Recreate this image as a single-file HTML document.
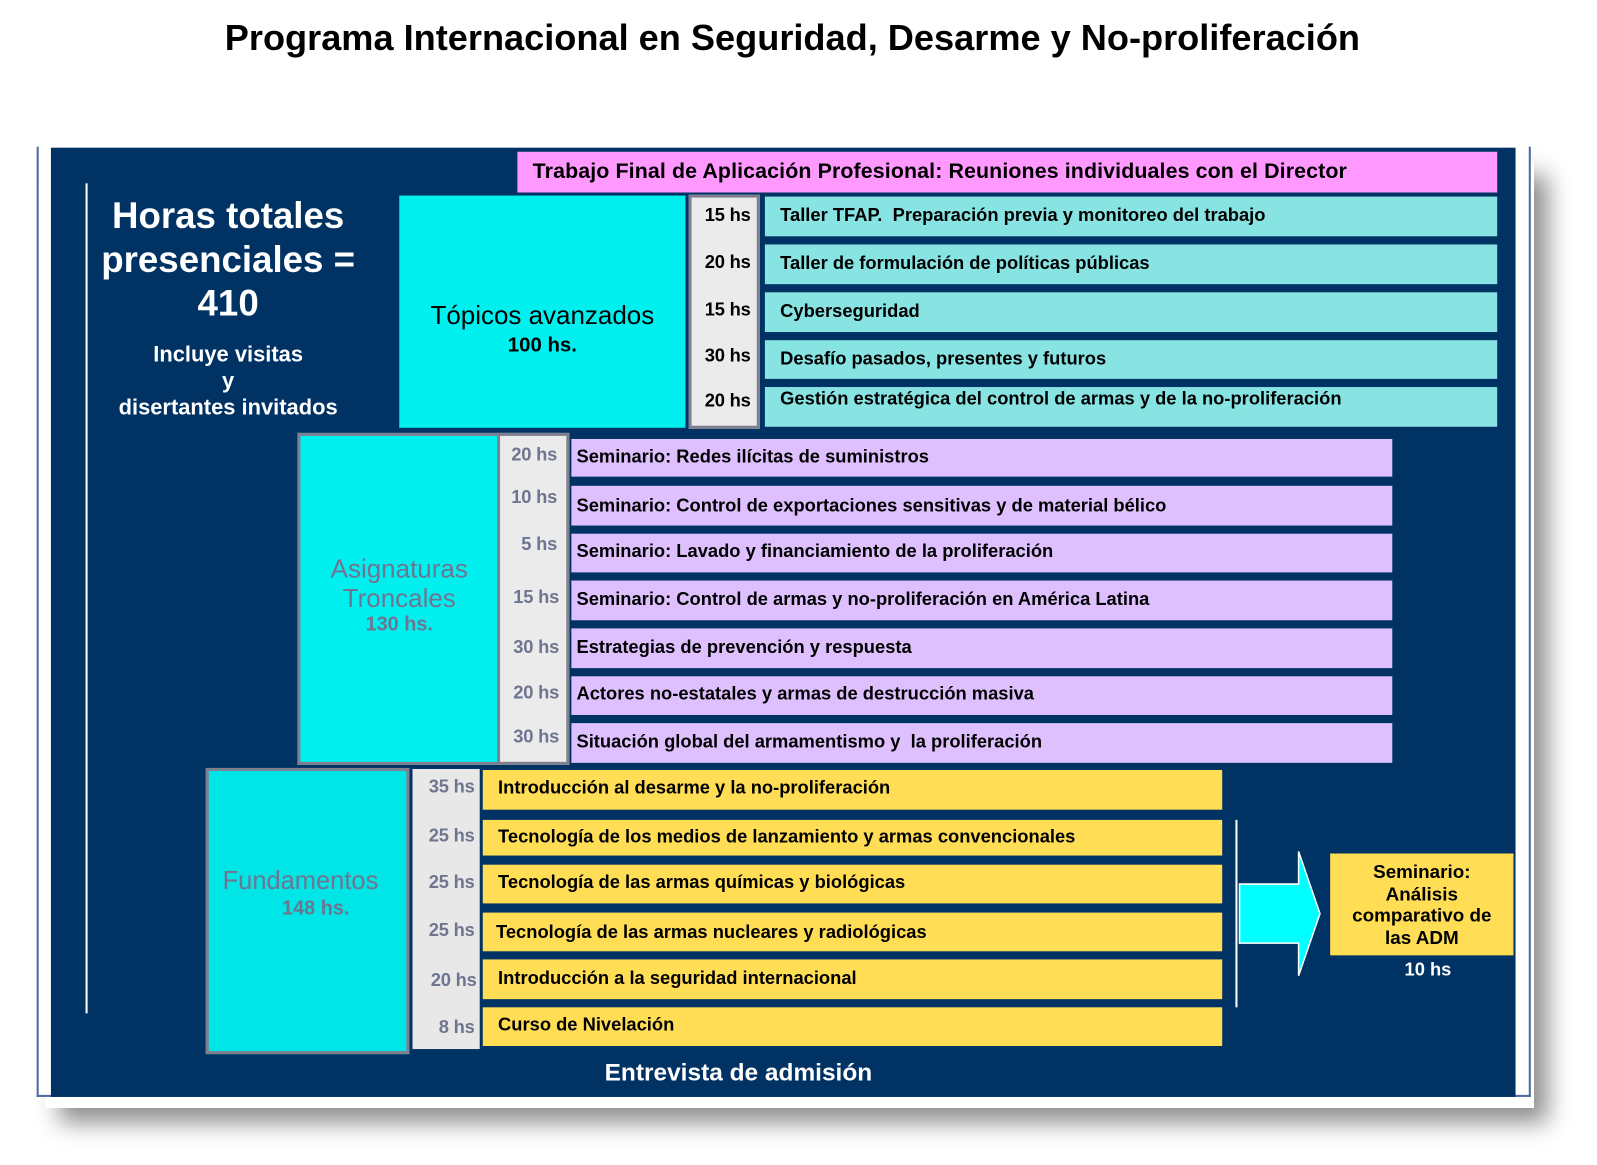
<!DOCTYPE html>
<html><head><meta charset="utf-8"><style>
html,body{margin:0;padding:0;background:#fff;width:1597px;height:1165px;overflow:hidden}
#w{position:absolute;left:0;top:0;width:1568px;height:1144px;transform:scale(1.0185);transform-origin:0 0;font-family:"Liberation Sans",Arial,sans-serif}
.a{position:absolute;box-sizing:border-box}
.t{position:absolute;white-space:nowrap}
.row{position:absolute;box-sizing:border-box;font-weight:bold;font-size:18px;color:#000;padding-left:15px;letter-spacing:0;line-height:1}
.tl{background:#88e3e3;left:751px;width:719px}
.pl{background:#dec0ff;left:561px;width:806px;padding-left:5px}
.yl{background:#ffdd55;left:474px;width:726px}
.h{position:absolute;font-weight:bold;font-size:18px;text-align:right;white-space:nowrap;letter-spacing:-0.2px}
.g{color:#6f7590}
</style></head><body><div id="w">
<div class="t" style="left:0;width:1556px;text-align:center;top:17px;font-size:35.5px;font-weight:bold">Programa Internacional en Seguridad, Desarme y No-proliferación</div>

<div class="a" style="left:44px;top:158px;width:1462px;height:930px;box-shadow:14px 14px 22px rgba(0,0,0,0.45)"></div>
<div class="a" style="left:36px;top:144px;width:1467px;height:933px;background:#fff;border-left:2px solid #4a6aa0;border-right:2px solid #4a6aa0;border-bottom:2px solid #4a6aa0"></div>
<div class="a" style="left:50px;top:145px;width:1438px;height:932px;background:#003264"></div>

<div class="a" style="left:508px;top:149px;width:962px;height:40px;background:#ff99ff"></div>
<div class="t" style="left:523px;top:157px;font-size:21px;font-weight:bold;letter-spacing:0.1px">Trabajo Final de Aplicación Profesional: Reuniones individuales con el Director</div>

<div class="a" style="left:84px;top:180px;width:2px;height:815px;background:#fff"></div>
<div class="t" style="left:84px;width:280px;text-align:center;top:190px;color:#fff;font-weight:bold;font-size:36px;line-height:43px">Horas totales<br>presenciales =<br>410</div>
<div class="t" style="left:84px;width:280px;text-align:center;top:335px;color:#fff;font-weight:bold;font-size:21.5px;line-height:26px">Incluye visitas<br>y<br>disertantes invitados</div>

<!-- Topicos -->
<div class="a" style="left:392px;top:192px;width:281px;height:228px;background:#00f0f0"></div>
<div class="t" style="left:392px;width:281px;text-align:center;top:297px;font-size:25.5px;line-height:27px">Tópicos avanzados<br><span style="font-size:20px;font-weight:bold">100 hs.</span></div>
<div class="a" style="left:676px;top:191px;width:70px;height:230px;background:#ebebeb;border:3px solid #7f7f8f"></div>
<div class="h" style="left:680px;width:57px;top:201px">15 hs</div>
<div class="h" style="left:680px;width:57px;top:247px">20 hs</div>
<div class="h" style="left:680px;width:57px;top:294px">15 hs</div>
<div class="h" style="left:680px;width:57px;top:339px">30 hs</div>
<div class="h" style="left:680px;width:57px;top:383px">20 hs</div>

<div class="row tl" style="top:193px;height:39px;padding-top:9px">Taller TFAP.&nbsp; Preparación previa y monitoreo del trabajo</div>
<div class="row tl" style="top:240px;height:39px;padding-top:9px">Taller de formulación de políticas públicas</div>
<div class="row tl" style="top:287px;height:39px;padding-top:9px">Cyberseguridad</div>
<div class="row tl" style="top:334px;height:38px;padding-top:9px">Desafío pasados, presentes y futuros</div>
<div class="row tl" style="top:380px;height:39px;padding-top:2px">Gestión estratégica del control de armas y de la no-proliferación</div>

<!-- Asignaturas -->
<div class="a" style="left:292px;top:425px;width:197px;height:326px;background:#00f0f0;border:3px solid #7f7f8f;border-right:none"></div>
<div class="t g" style="left:292px;width:200px;text-align:center;top:545px;font-size:25.5px;line-height:29px">Asignaturas<br>Troncales</div>
<div class="t g" style="left:292px;width:200px;text-align:center;top:602px;font-size:19.5px;font-weight:bold">130 hs.</div>
<div class="a" style="left:488px;top:425px;width:71px;height:326px;background:#ebebeb;border:3px solid #7f7f8f"></div>
<div class="h g" style="left:490px;width:57px;top:436px">20 hs</div>
<div class="h g" style="left:490px;width:57px;top:478px">10 hs</div>
<div class="h g" style="left:490px;width:57px;top:524px">5 hs</div>
<div class="h g" style="left:490px;width:59px;top:576px">15 hs</div>
<div class="h g" style="left:490px;width:59px;top:625px">30 hs</div>
<div class="h g" style="left:490px;width:59px;top:670px">20 hs</div>
<div class="h g" style="left:490px;width:59px;top:713px">30 hs</div>

<div class="row pl" style="top:431px;height:37px;padding-top:8px">Seminario: Redes ilícitas de suministros</div>
<div class="row pl" style="top:477px;height:39px;padding-top:10px">Seminario: Control de exportaciones sensitivas y de material bélico</div>
<div class="row pl" style="top:524px;height:38px;padding-top:8px">Seminario: Lavado y financiamiento de la proliferación</div>
<div class="row pl" style="top:570px;height:39px;padding-top:9px">Seminario: Control de armas y no-proliferación en América Latina</div>
<div class="row pl" style="top:617px;height:39px;padding-top:9px">Estrategias de prevención y respuesta</div>
<div class="row pl" style="top:664px;height:38px;padding-top:8px">Actores no-estatales y armas de destrucción masiva</div>
<div class="row pl" style="top:710px;height:39px;padding-top:9px">Situación global del armamentismo y&nbsp; la proliferación</div>

<!-- Fundamentos -->
<div class="a" style="left:202px;top:754px;width:200px;height:281px;background:#00e5e5;border:3px solid #7f7f8f"></div>
<div class="t g" style="left:195px;width:200px;text-align:center;top:851px;font-size:25px">Fundamentos</div>
<div class="t g" style="left:210px;width:200px;text-align:center;top:881px;font-size:19.5px;font-weight:bold">148 hs.</div>
<div class="a" style="left:405px;top:755px;width:66px;height:275px;background:#e8e8e8"></div>
<div class="h g" style="left:405px;width:61px;top:762px">35 hs</div>
<div class="h g" style="left:405px;width:61px;top:810px">25 hs</div>
<div class="h g" style="left:405px;width:61px;top:856px">25 hs</div>
<div class="h g" style="left:405px;width:61px;top:903px">25 hs</div>
<div class="h g" style="left:405px;width:63px;top:952px">20 hs</div>
<div class="h g" style="left:405px;width:61px;top:998px">8 hs</div>

<div class="row yl" style="top:756px;height:39px;padding-top:8px">Introducción al desarme y la no-proliferación</div>
<div class="row yl" style="top:805px;height:35px;padding-top:7px">Tecnología de los medios de lanzamiento y armas convencionales</div>
<div class="row yl" style="top:849px;height:38px;padding-top:8px">Tecnología de las armas químicas y biológicas</div>
<div class="row yl" style="top:896px;height:38px;padding-top:10px;padding-left:13px">Tecnología de las armas nucleares y radiológicas</div>
<div class="row yl" style="top:942px;height:39px;padding-top:9px">Introducción a la seguridad internacional</div>
<div class="row yl" style="top:989px;height:38px;padding-top:8px">Curso de Nivelación</div>

<div class="a" style="left:1213px;top:805px;width:2px;height:184px;background:#fff"></div>
<svg class="a" style="left:1210px;top:830px" width="95" height="135"><polygon points="7,38 65,38 65,6 86,67 65,128 65,96 7,96" fill="#00ffff" stroke="#fff" stroke-width="1.5"/></svg>
<div class="a" style="left:1306px;top:838px;width:180px;height:100px;background:#ffdd55"></div>
<div class="t" style="left:1306px;width:180px;text-align:center;top:845px;font-weight:bold;font-size:18.5px;line-height:21.5px">Seminario:<br>Análisis<br>comparativo de<br>las ADM</div>
<div class="t" style="left:1312px;width:180px;text-align:center;top:942px;font-weight:bold;font-size:18px;color:#fff">10 hs</div>

<div class="t" style="left:525px;width:400px;text-align:center;top:1040px;color:#fff;font-size:24px;font-weight:bold">Entrevista de admisión</div>
</div></body></html>
